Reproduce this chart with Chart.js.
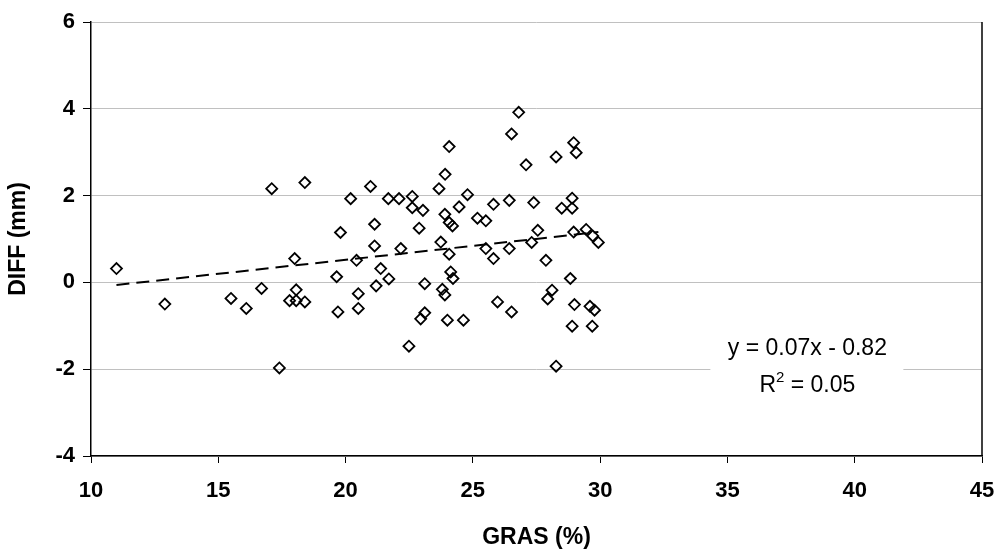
<!DOCTYPE html>
<html>
<head>
<meta charset="utf-8">
<script src="https://cdn.jsdelivr.net/npm/chart.js@4"></script>
<style>
  body { margin: 0; background: #fff; }
  canvas { display: block; }
</style>
</head>
<body>
<canvas id="myChart" width="1001" height="554"></canvas>
<script>
// GRAS (%) / DIFF (mm) points
const gras = [11.0, 12.9, 15.5, 16.1, 16.7, 17.1, 17.4, 18.0, 18.06, 17.8, 18.06, 18.4, 18.4,
  19.65, 19.7, 19.8, 20.2, 20.43, 20.5, 20.5, 20.98, 21.14, 21.14, 21.2, 21.38, 21.7, 21.68,
  22.1, 22.17, 22.49, 22.62, 22.62, 22.89, 23.04, 23.11, 23.11, 22.95, 23.67, 23.74, 23.8,
  23.9, 23.9, 23.91, 24.0, 24.07, 24.07, 24.2, 24.07, 24.13, 24.22, 24.46, 24.63, 24.79,
  25.18, 25.51, 25.51, 25.81, 25.81, 25.97, 26.43, 26.43, 26.52, 26.52, 26.8, 27.09, 27.31,
  27.39, 27.55, 27.87, 27.94, 28.11, 28.27, 28.27, 28.49, 28.83, 28.9, 28.9, 28.9, 28.96,
  28.96, 28.99, 29.06, 29.45, 29.6, 29.69, 29.71, 29.78, 29.93];
const diff = [0.32, -0.5, -0.37, -0.6, -0.14, 2.16, -1.97, 0.55, -0.17, -0.42, -0.42, -0.45, 2.30,
  0.13, -0.68, 1.15, 1.93, 0.51, -0.26, -0.6, 2.21, 1.34, 0.84, -0.08, 0.32, 0.08, 1.93,
  1.93, 0.78, -1.47, 1.98, 1.72, 1.25, 1.66, -0.03, -0.70, -0.84, 2.16, 0.93, -0.16,
  -0.29, 1.57, 2.49, -0.87, 3.13, 1.38, 1.3, 0.65, 0.24, 0.09, 1.74, -0.87, 2.02,
  1.48, 1.42, 0.78, 0.55, 1.80, -0.45, 1.89, 0.78, -0.68, 3.42, 3.92, 2.71, 0.92,
  1.84, 1.2, 0.51, -0.38, -0.18, 2.89, -1.93, 1.71, 0.09, 1.94, 1.71, -1.01, 1.16,
  3.22, -0.51, 2.99, 1.22, -0.55, -1.01, 1.07, -0.64, 0.92];

// trend line ends as seen on the chart
const trendX = [11.0, 29.93];
const trendY = [-0.06, 1.16];

const xTicks = [10, 15, 20, 25, 30, 35, 40, 45];
const yTicks = [-4, -2, 0, 2, 4, 6];

const eqText = 'y = 0.07x - 0.82';
const r2Text = ' = 0.05';

const points = gras.map((g, i) => ({ x: g, y: diff[i] }));
const trend = trendX.map((t, i) => ({ x: t, y: trendY[i] }));

const FONT = '"Liberation Sans", Arial, sans-serif';

// equation label with white box, plus the right border of the plot
const extras = {
  id: 'extras',
  afterDatasetsDraw(chart) {
    const ctx = chart.ctx;
    const a = chart.chartArea;
    ctx.save();
    ctx.strokeStyle = '#000';
    ctx.lineWidth = 1.5;
    ctx.beginPath();
    ctx.moveTo(a.right, a.top);
    ctx.lineTo(a.right, a.bottom);
    ctx.stroke();

    const cx = a.left + (a.right - a.left) * 0.804;
    const top = a.top + (a.bottom - a.top) * 0.71;
    ctx.fillStyle = '#fff';
    ctx.fillRect(cx - 97, top, 193, 72);

    ctx.fillStyle = '#000';
    ctx.textBaseline = 'alphabetic';
    ctx.textAlign = 'center';
    ctx.font = '23px ' + FONT;
    ctx.fillText(eqText, cx, top + 25);

    // R² with a raised 2
    ctx.textAlign = 'left';
    const wR = ctx.measureText('R').width;
    const wRest = ctx.measureText(r2Text).width;
    ctx.font = '15px ' + FONT;
    const w2 = ctx.measureText('2').width;
    const x0 = cx - (wR + w2 + wRest) / 2;
    ctx.font = '23px ' + FONT;
    ctx.fillText('R', x0, top + 62);
    ctx.font = '15px ' + FONT;
    ctx.fillText('2', x0 + wR, top + 52);
    ctx.font = '23px ' + FONT;
    ctx.fillText(r2Text, x0 + wR + w2, top + 62);
    ctx.restore();
  }
};

const ctx = document.getElementById('myChart').getContext('2d');
const myChart = new Chart(ctx, {
  type: 'scatter',
  data: {
    datasets: [{
      data: points,
      pointStyle: 'rectRot',
      pointRadius: 5.5,
      pointHoverRadius: 5.5,
      borderColor: '#000',
      backgroundColor: 'rgba(0,0,0,0)',
      pointBorderWidth: 1.8
    }, {
      type: 'line',
      data: trend,
      borderColor: '#000',
      borderWidth: 2,
      borderDash: [13, 7],
      pointRadius: 0,
      fill: false
    }]
  },
  options: {
    responsive: false,
    animation: false,
    events: [],
    layout: { padding: { top: 22, right: 19, left: 0, bottom: 0 } },
    plugins: { legend: { display: false }, tooltip: { enabled: false } },
    scales: {
      x: {
        type: 'linear',
        min: 10,
        max: 45,
        afterFit: s => { s.height = 98; s.paddingLeft = 0; s.paddingRight = 0; },
        afterBuildTicks: s => { s.ticks = xTicks.map(v => ({ value: v })); },
        grid: { drawOnChartArea: false, tickLength: 7, tickColor: '#000', tickWidth: 1 },
        border: { color: '#000', width: 1.5 },
        ticks: {
          color: '#000',
          padding: 15,
          font: { family: FONT, size: 22, weight: 'bold' }
        },
        title: {
          display: true,
          text: 'GRAS (%)',
          color: '#000',
          padding: { top: 0, bottom: 3 },
          font: { family: FONT, size: 23, weight: 'bold' }
        }
      },
      y: {
        min: -4,
        max: 6,
        afterFit: s => { s.width = 91; s.paddingTop = 0; s.paddingBottom = 0; },
        afterBuildTicks: s => { s.ticks = yTicks.map(v => ({ value: v })); },
        grid: { color: '#c0c0c0', tickColor: '#000', tickLength: 8, lineWidth: 1 },
        border: { color: '#000', width: 1.5 },
        ticks: {
          color: '#000',
          padding: 8,
          font: { family: FONT, size: 22, weight: 'bold' }
        },
        title: {
          display: true,
          text: 'DIFF (mm)',
          color: '#000',
          padding: { top: 5, bottom: 0 },
          font: { family: FONT, size: 23, weight: 'bold' }
        }
      }
    }
  },
  plugins: [extras]
});
</script>
</body>
</html>
